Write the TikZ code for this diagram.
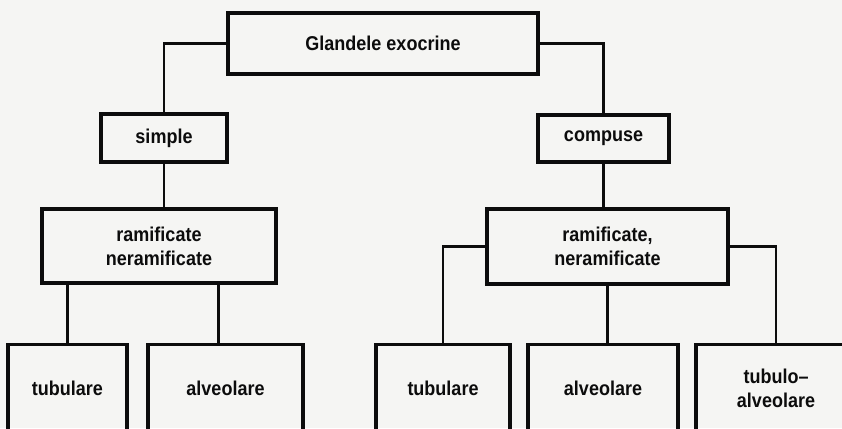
\documentclass[tikz,border=0pt]{standalone}
\usepackage{fontspec}
\setmainfont[FakeStretch=0.9]{Liberation Sans}
\usepackage{xcolor}
\usepackage{tikz}
\usetikzlibrary{positioning,calc}
\definecolor{paperwhite}{RGB}{245, 245, 243}
\definecolor{inkblack}{RGB}{12, 12, 12}

\tikzset{
    box/.style={draw=inkblack, line width=3.2pt, align=center, inner sep=0pt,
        text=inkblack, font=\fontsize{20}{24}\selectfont\bfseries},
    link/.style={draw=inkblack, line width=2.2pt}
}

\begin{document}
\begin{tikzpicture}[x=1pt, y=-1pt]
    % Page
    \useasboundingbox (0,0) rectangle (842,428);
    \fill[paperwhite] (0,0) rectangle (842,428);
    \clip (0,0) rectangle (842,428);

    % Root
    \node[box, minimum width=310pt, minimum height=61pt] (glande) at (383,43.5) {Glandele exocrine};

    % Second level
    \node[box, minimum width=126pt, minimum height=48pt] (simple) at (164,138) {simple};
    \node[box, minimum width=131pt, minimum height=47pt] (compuse) at (603.5,138.5) {compuse};

    % Third level
    \node[box, minimum width=234pt, minimum height=74pt] (ramS) at (159,246) {ramificate\\neramificate};
    \node[box, minimum width=241pt, minimum height=75pt] (ramC) at (607.5,246.5) {ramificate,\\neramificate};

    % Leaves (cut by the page bottom)
    \node[box, anchor=north, minimum width=119pt, minimum height=88pt] (tubS) at (67.5,343) {tubulare};
    \node[box, anchor=north, minimum width=155pt, minimum height=88pt] (alvS) at (225.5,343) {alveolare};
    \node[box, anchor=north, minimum width=134pt, minimum height=88pt] (tubC) at (443,343) {tubulare};
    \node[box, anchor=north, minimum width=150pt, minimum height=88pt] (alvC) at (603,343) {alveolare};
    \node[box, anchor=north, minimum width=160pt, minimum height=88pt] (tubalvC) at (776,343) {tubulo–\\alveolare};

    % Connectors
    \draw[link] (glande.west) -| (simple.north);
    \draw[link] (glande.east) -| (compuse.north);
    \draw[link] (simple.south) -- (simple.south |- ramS.north);
    \draw[link] (compuse.south) -- (compuse.south |- ramC.north);
    \draw[link] (tubS.north) -- (tubS.north |- ramS.south);
    \draw[link] ([xshift=-7pt]alvS.north) -- ([xshift=-7pt]alvS.north |- ramS.south);
    \draw[link] (ramC.west) -| (tubC.north);
    \draw[link] (ramC.south) -- (ramC.south |- alvC.north);
    \draw[link] (ramC.east) -| (tubalvC.north);
\end{tikzpicture}
\end{document}
